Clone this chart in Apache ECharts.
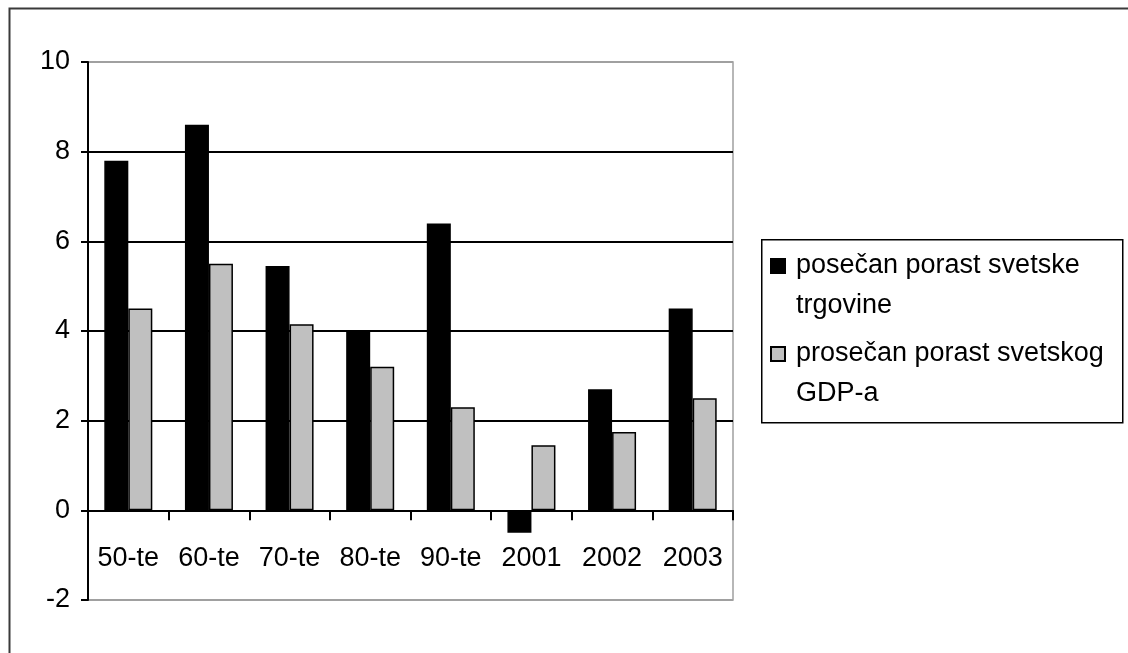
<!DOCTYPE html>
<html>
<head>
<meta charset="utf-8">
<script src="https://cdn.jsdelivr.net/npm/echarts@6/dist/echarts.min.js"></script>
<style>
html,body{margin:0;padding:0;background:#fff;}
#chart{width:1128px;height:653px;}
</style>
</head>
<body>
<div id="chart"></div>
<script>
const categories = ['50-te', '60-te', '70-te', '80-te', '90-te', '2001', '2002', '2003'];
const tradeGrowth = [7.8, 8.6, 5.45, 4.0, 6.4, -0.5, 2.7, 4.5];
const gdpGrowth = [4.5, 5.5, 4.15, 3.2, 2.3, 1.45, 1.75, 2.5];
const seriesNames = ['posečan porast svetske trgovine', 'prosečan porast svetskog GDP-a'];
const legendLines = {
  'posečan porast svetske trgovine': ' \nposečan porast svetske\ntrgovine',
  'prosečan porast svetskog GDP-a': ' \nprosečan porast svetskog\nGDP-a'
};

const FONT = '"Liberation Sans", Arial, sans-serif';
const chart = echarts.init(document.getElementById('chart'), null, {renderer: 'canvas'});

chart.setOption({
  animation: false,
  backgroundColor: '#ffffff',
  textStyle: {fontFamily: FONT},
  graphic: [
    {
      type: 'rect', left: 7, top: 6, silent: true, z: -10,
      shape: {x: 0, y: 0, width: 1200, height: 700},
      style: {fill: 'none', stroke: '#3a3a3a', lineWidth: 2}
    },
    {
      type: 'rect', left: 761, top: 239, silent: true, z: -5,
      shape: {x: 0, y: 0, width: 361, height: 183},
      style: {fill: '#fff', stroke: '#000', lineWidth: 1.5}
    }
  ],
  grid: {
    left: 88, right: 395, top: 62, bottom: 53,
    show: true, borderColor: '#a0a0a0', borderWidth: 1.5,
    containLabel: false
  },
  legend: {
    orient: 'vertical',
    left: 770,
    top: 206,
    padding: 0,
    itemGap: -32,
    itemWidth: 14,
    itemHeight: 14,
    icon: 'rect',
    selectedMode: false,
    data: seriesNames,
    formatter: function (name) { return legendLines[name]; },
    textStyle: {
      fontFamily: FONT, fontSize: 27, color: '#000',
      lineHeight: 40, padding: [0, 0, 0, 6]
    }
  },
  xAxis: {
    type: 'category',
    data: categories,
    boundaryGap: true,
    offset: -89.67,
    axisLine: {show: true, onZero: false, lineStyle: {color: '#000', width: 2}},
    axisTick: {show: true, length: 10, inside: false, alignWithLabel: false, lineStyle: {color: '#000', width: 2}},
    axisLabel: {interval: 0, margin: 35, fontSize: 27, color: '#000', fontFamily: FONT},
    splitLine: {show: false}
  },
  yAxis: {
    type: 'value',
    min: -2, max: 10, interval: 2,
    axisLine: {show: true, lineStyle: {color: '#000', width: 2}},
    axisTick: {show: true, length: 7, lineStyle: {color: '#000', width: 2}},
    axisLabel: {margin: 18, fontSize: 27, color: '#000', fontFamily: FONT},
    splitLine: {
      show: true,
      lineStyle: {
        color: ['#a0a0a0', '#000', '#000', '#000', '#000', '#000', '#a0a0a0'],
        width: 2
      }
    }
  },
  series: [
    {
      name: seriesNames[0],
      type: 'bar',
      data: tradeGrowth,
      barWidth: 24,
      barGap: '0%',
      itemStyle: {color: '#000', borderColor: '#000', borderWidth: 1.5}
    },
    {
      name: seriesNames[1],
      type: 'bar',
      data: gdpGrowth,
      barWidth: 24,
      barGap: '0%',
      itemStyle: {color: '#c0c0c0', borderColor: '#000', borderWidth: 1.5}
    }
  ]
});
</script>
</body>
</html>
